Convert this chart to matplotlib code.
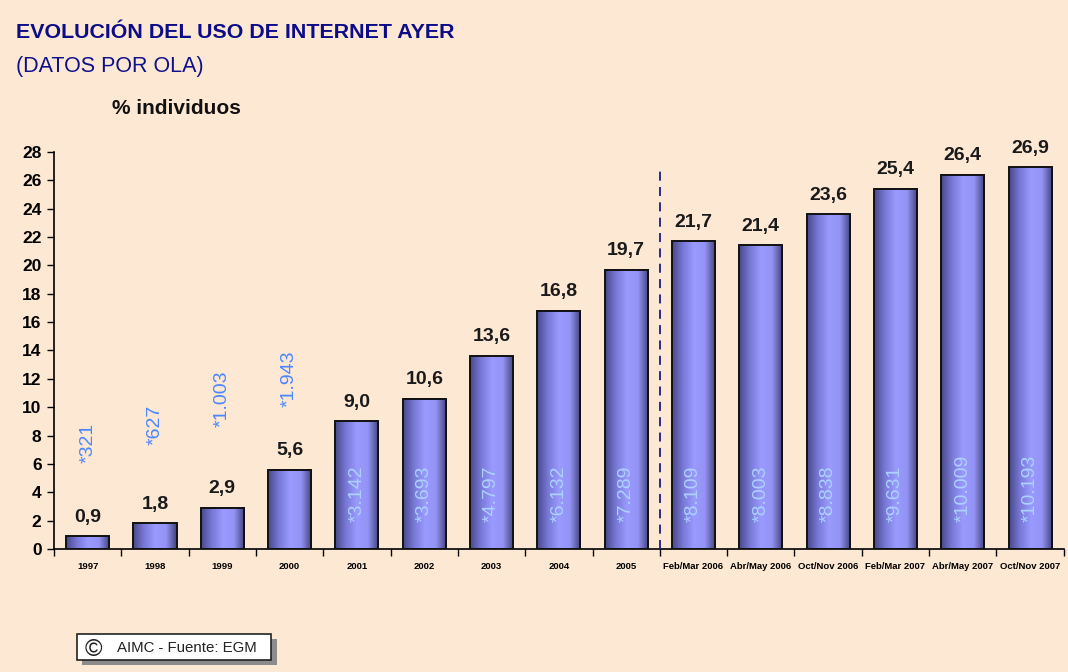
import numpy as np
import matplotlib.pyplot as plt
from matplotlib.colors import LinearSegmentedColormap
from matplotlib.patches import Rectangle

plt.rcParams['font.family'] = ['Liberation Sans', 'DejaVu Sans']

# datos
categorias = ['1997', '1998', '1999', '2000', '2001', '2002', '2003', '2004', '2005',
              'Feb/Mar 2006', 'Abr/May 2006', 'Oct/Nov 2006', 'Feb/Mar 2007',
              'Abr/May 2007', 'Oct/Nov 2007']
porcentajes = [0.9, 1.8, 2.9, 5.6, 9.0, 10.6, 13.6, 16.8, 19.7,
               21.7, 21.4, 23.6, 25.4, 26.4, 26.9]
individuos = ['*321', '*627', '*1.003', '*1.943', '*3.142', '*3.693', '*4.797', '*6.132',
              '*7.289', '*8.109', '*8.003', '*8.838', '*9.631', '*10.009', '*10.193']
# posicion (valor) de la base del texto cuando va encima de la barra
base_texto_fuera = [6.1, 7.3, 8.6, 10.0]

fondo = '#fde8d3'
fig = plt.figure(figsize=(10.68, 6.72), dpi=100, facecolor=fondo)
ax = fig.add_axes([0.0506, 0.183, 0.9454, 0.591])
ax.set_facecolor(fondo)

cmap = LinearSegmentedColormap.from_list('barra', ['#48488a', '#7878d6', '#9a9aff', '#9494f6', '#40407a'])
grad = np.linspace(0, 1, 256).reshape(1, -1)
ancho = 0.64
x = np.arange(len(categorias))

for i, v in enumerate(porcentajes):
    ax.imshow(grad, extent=[x[i] - ancho / 2, x[i] + ancho / 2, 0, v], aspect='auto',
              cmap=cmap, interpolation='bicubic', zorder=2)
ax.bar(x, porcentajes, width=ancho, fill=False, edgecolor='#111111', linewidth=1.4, zorder=3)

for i, v in enumerate(porcentajes):
    ax.text(x[i], v + 0.75, f'{v:.1f}'.replace('.', ','), ha='center', va='bottom',
            fontsize=14, fontweight='bold', color='#1a1a1a', zorder=4)
    if i < len(base_texto_fuera):
        ax.text(x[i], base_texto_fuera[i], individuos[i], rotation=90, ha='center', va='bottom',
                fontsize=14, color='#4a86ff', zorder=4)
    else:
        ax.text(x[i], 1.9, individuos[i], rotation=90, ha='center', va='bottom',
                fontsize=14, color='#acd2ff', zorder=4)

ax.plot([8.5, 8.5], [0, 27], linestyle=(0, (5, 3.5)), color='#1a1a8c', linewidth=1.3, zorder=4)

ax.set_xlim(-0.5, 14.5)
ax.set_ylim(0, 28)
ax.set_yticks(range(0, 29, 2))
ax.set_xticks(x)
ax.set_xticklabels(categorias, fontsize=6.8, fontweight='bold')
ax.set_xticks(np.arange(-0.5, 14.6, 1), minor=True)
ax.tick_params(axis='x', which='major', length=0, pad=9)
ax.tick_params(axis='x', which='minor', length=5, width=1)
ax.tick_params(axis='y', length=5, width=1, labelsize=12.5, pad=4)
for lab in ax.get_yticklabels():
    lab.set_fontweight('bold')
for s in ['top', 'right']:
    ax.spines[s].set_visible(False)
for s in ['left', 'bottom']:
    ax.spines[s].set_linewidth(1.2)

fig.text(0.015, 0.952, 'EVOLUCIÓN DEL USO DE INTERNET AYER', fontsize=15.4, fontweight='bold',
         color='#0c0c88', va='center')
fig.text(0.015, 0.901, '(DATOS POR OLA)', fontsize=15.5, color='#10108a', va='center')
fig.text(0.105, 0.839, '% individuos', fontsize=15, fontweight='bold', color='#111111', va='center')

# recuadro copyright con sombra
fig.patches.append(Rectangle((0.077, 0.011), 0.182, 0.038, transform=fig.transFigure,
                             facecolor='#8c8c8c', edgecolor='none', zorder=1))
fig.patches.append(Rectangle((0.072, 0.018), 0.182, 0.038, transform=fig.transFigure,
                             facecolor='white', edgecolor='#222222', linewidth=1.2, zorder=2))
fig.text(0.079, 0.033, '©', fontsize=17, color='#222222', va='center', zorder=3)
fig.text(0.11, 0.036, 'AIMC - Fuente: EGM', fontsize=10.8, color='#222222', va='center', zorder=3)

fig.savefig('out.png', dpi=100, facecolor=fondo)
